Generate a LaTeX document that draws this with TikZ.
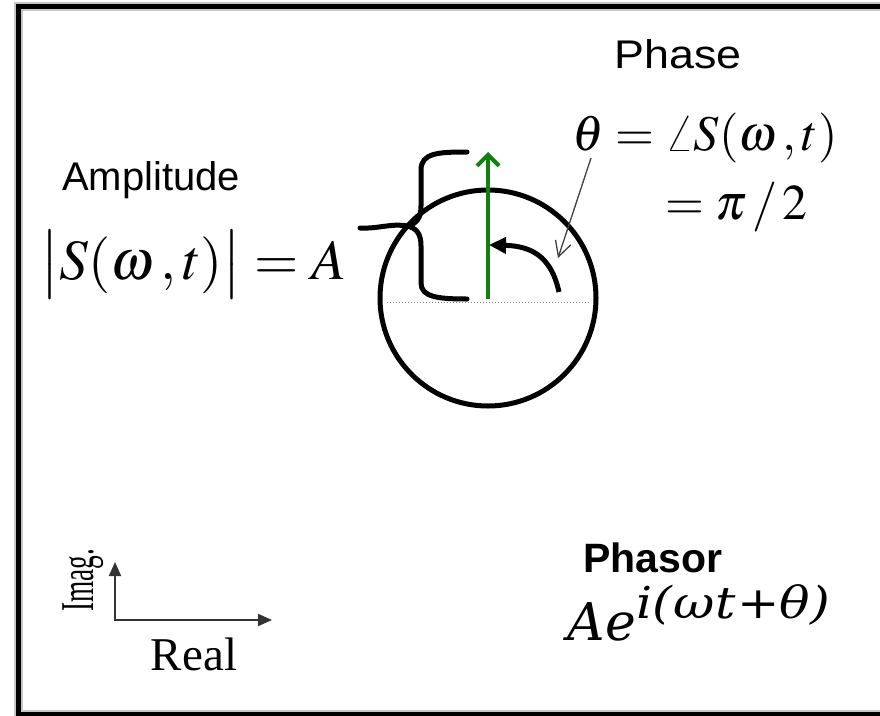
\documentclass[tikz,border=0pt]{standalone}
\usepackage{mathptmx}
\usepackage[no-math]{fontspec}
\usepackage{graphicx}
\setmainfont{Liberation Serif}
\newfontfamily\arialfont{Liberation Sans}
\newfontfamily\cambriafont{DejaVu Serif}
\usetikzlibrary{arrows.meta}
\definecolor{phgreen}{RGB}{16,128,16}
\tikzset{
  sanslabel/.style={font=\arialfont\fontsize{40}{44}\selectfont, inner sep=0pt},
  mathlabel/.style={font=\fontsize{57}{66}\selectfont, inner sep=0pt},
  mathmid/.style={font=\fontsize{50}{60}\selectfont, inner sep=0pt},
  thickblack/.style={line width=5pt, black, line cap=round},
  axisline/.style={line width=2pt, black!80, -{Triangle[length=14pt,width=12pt]}},
}
\begin{document}
\begin{tikzpicture}[x=1pt,y=-1pt]
\clip (0,0) rectangle (880,715);
\fill[white] (0,0) rectangle (880,715);
% frame with soft shadow
\draw[line width=9pt, black!22] (18.5,6.5) rectangle (905,714);
\draw[line width=5pt, black] (18.5,6.5) rectangle (905,714);

% circle and geometry
\coordinate (c) at (488,298);
\draw[line width=5pt] (c) circle[radius=108pt];
\coordinate (dl) at (387,302);
\coordinate (dr) at (591,302);
\draw[gray, dotted, line width=1pt] (dl) -- (dr);

% green phasor
\coordinate (gbase) at (488,299);
\coordinate (gtip) at (488,152);
\draw[phgreen, line width=4pt, -{Straight Barb[length=11pt,width=22pt,line width=4pt]}] (gbase) -- (gtip);

% curved phase arrow
\coordinate (cstart) at (559,292);
\coordinate (cend) at (489,245);
\draw[line width=5pt, -{Triangle[length=17pt,width=16pt]}] (cstart) .. controls (552,260) and (535,246) .. (cend);

% brace
\coordinate (btop) at (467,152);
\coordinate (bbot) at (467,299);
\coordinate (btip) at (407,226);
\coordinate (blead) at (360,228);
\draw[thickblack] (btop) .. controls (438,152) and (421,153) .. (421,170) -- (421,206)
   .. controls (421,219) and (416,224) .. (btip)
   .. controls (416,228) and (421,233) .. (421,246) -- (421,283)
   .. controls (421,297) and (438,299) .. (bbot);
\draw[thickblack] (btip) .. controls (392,223) and (378,229) .. (blead);

% labels
\node[sanslabel, xscale=1.12, anchor=base] (phase) at (678,68) {Phase};
\node[sanslabel, anchor=base west] (ampl) at (62,190) {Amplitude};
\node[mathlabel, anchor=base west] (absS) at (40,279) {$\bigl|S(\omega\,,t)\bigr| = A$};
\node[mathmid, anchor=base west] (theta) at (572,150) {$\theta = \angle S(\omega\,,t)$};
\node[mathmid, anchor=base west] (pihalf) at (665,219) {$= \pi\,/\,2$};

% thin pointer to the phase arrow
\coordinate (pstart) at (591,158);
\coordinate (pend) at (558,258);
\draw[black!75, line width=1.3pt, -{Straight Barb[length=15pt,width=16pt,line width=1.3pt]}] (pstart) -- (pend);

% axes
\coordinate (o) at (115,620);
\coordinate (ytip) at (115,562);
\coordinate (xtip) at (272,620);
\draw[axisline] (o) -- (ytip);
\draw[axisline] ([xshift=-1pt]o) -- (xtip);
\node[font=\fontsize{47}{50}\selectfont, inner sep=0pt, anchor=base] (real) at (194,670) {Real};
\node[font=\fontsize{47}{50}\selectfont, inner sep=0pt, rotate=90, xscale=0.58, anchor=base west] (imag) at (93,612) {Imag.};

% phasor
\node[font=\arialfont\bfseries\fontsize{41}{44}\selectfont, inner sep=0pt, anchor=base west] (phasor) at (583,572) {Phasor};
\node[font=\cambriafont\itshape\fontsize{52}{60}\selectfont, inner sep=0pt, anchor=base west] (formula) at (567,640)
  {A\kern1pt e\raisebox{22pt}{\scalebox{1.15}[1]{\fontsize{44}{48}\selectfont i(\kern1pt ω\kern1pt t\kern1pt\upshape+\itshape θ)}}};
\end{tikzpicture}
\end{document}
